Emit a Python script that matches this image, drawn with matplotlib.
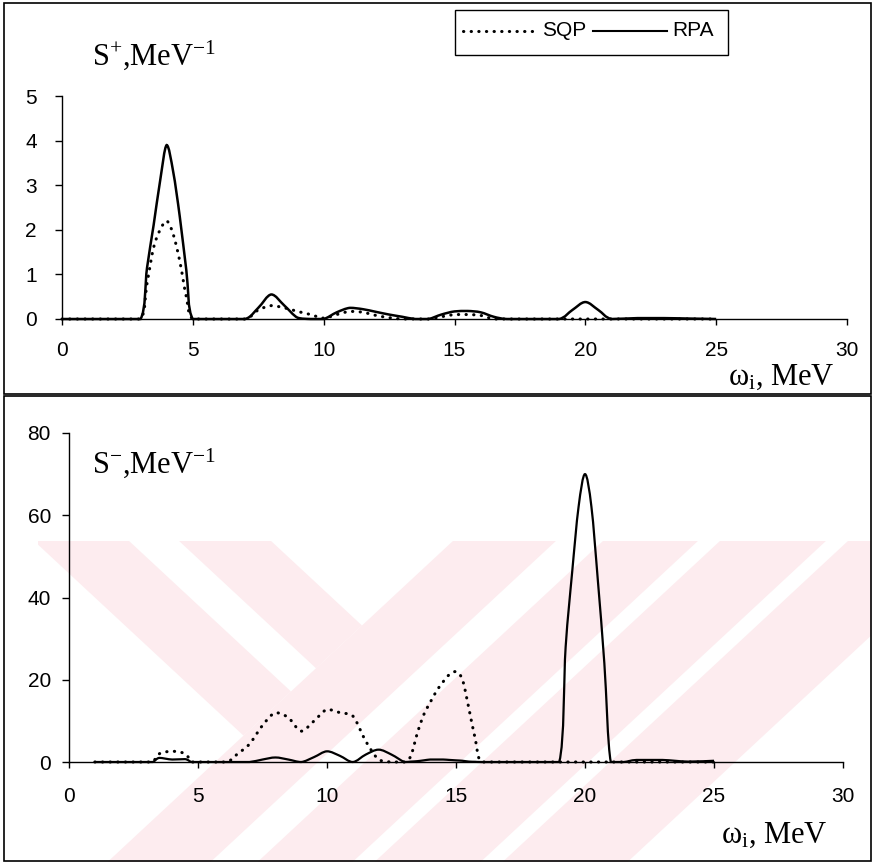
import matplotlib
matplotlib.use('Agg')
import matplotlib.pyplot as plt
from matplotlib.patches import Rectangle, Polygon, PathPatch
from matplotlib.lines import Line2D
from matplotlib.path import Path

W, H = 873, 864

# upper panel, S+ strength (MeV^-1) vs omega_i (MeV)
top_w = [0, 1, 2, 3, 3.25, 3.5, 3.75, 4, 4.25, 4.5, 4.75, 5,
         6, 7, 7.5, 8, 8.5, 9, 9.5, 10,
         10.5, 11, 11.5, 12, 12.5, 13, 13.5, 14,
         14.5, 15, 15.5, 16, 16.5, 17, 18, 19,
         19.5, 20, 20.5, 21, 22, 23, 24, 25]
top_sqp = [0, 0, 0, 0, 0.8, 1.6, 2.0, 2.2, 1.9, 1.3, 0.5, 0,
           0, 0, 0.2, 0.3, 0.25, 0.17, 0.1, 0.02,
           0.1, 0.17, 0.15, 0.08, 0.03, 0, 0, 0,
           0.05, 0.1, 0.1, 0.08, 0, 0, 0, 0,
           0, 0, 0, 0, 0, 0, 0, 0]
top_rpa = [0, 0, 0, 0, 1.15, 2.1, 3.1, 3.9, 3.3, 2.3, 1.1, 0,
           0, 0, 0.25, 0.55, 0.3, 0.03, 0, 0,
           0.15, 0.25, 0.22, 0.16, 0.1, 0.05, 0, 0,
           0.1, 0.17, 0.18, 0.15, 0.05, 0, 0, 0,
           0.2, 0.38, 0.2, 0, 0.02, 0.02, 0.01, 0]

# lower panel, S- strength
bot_w = [1, 2, 3, 3.25, 3.5, 4, 4.5, 4.75,
         5, 6, 6.25, 6.5, 7, 7.5, 8, 8.5,
         9, 9.5, 10, 10.5, 11, 11.5, 12, 12.5,
         13, 13.25, 13.5, 13.75, 14, 14.25, 14.5, 14.75,
         15, 15.25, 15.5, 15.75, 16, 17, 18, 19,
         19.25, 19.5, 19.75, 20, 20.25, 20.5, 20.75, 21,
         21.5, 22, 23, 24, 25]
bot_sqp = [0, 0, 0, 0, 2.0, 2.6, 2.0, 0,
           0, 0, 0.4, 1.8, 4.4, 8.9, 12.0, 10.8,
           7.5, 10.0, 12.8, 12.0, 11.2, 5.1, 0.6, 0,
           0, 1.5, 7.0, 11.5, 14.5, 17.3, 19.5, 21.3,
           22.0, 20.0, 13.0, 5.5, 0, 0, 0, 0,
           0, 0, 0, 0, 0, 0, 0, 0,
           0, 0, 0, 0, 0]
bot_rpa = [0, 0, 0, 0, 1.0, 0.6, 0.7, 0,
           0, 0, 0, 0, 0, 0.6, 1.1, 0.6,
           0, 1.2, 2.6, 1.5, 0, 1.8, 3.0, 1.8,
           0, 0.1, 0.2, 0.4, 0.6, 0.6, 0.6, 0.5,
           0.4, 0.3, 0.1, 0.05, 0, 0, 0, 0,
           28, 46, 62, 70, 62, 44, 24, 0,
           0, 0.5, 0.5, 0.1, 0.3]

x_ticks = [0, 5, 10, 15, 20, 25, 30]
top_y_ticks = [0, 1, 2, 3, 4, 5]
bot_y_ticks = [0, 20, 40, 60, 80]

plt.rcParams['font.family'] = ['Liberation Sans', 'DejaVu Sans']
plt.rcParams['mathtext.fontset'] = 'custom'
plt.rcParams['mathtext.rm'] = 'Liberation Serif'
plt.rcParams['mathtext.it'] = 'Liberation Serif:italic'


def fx(px):
    return px / W


def fy(py):
    return 1 - py / H


def pts(seq):
    return [(fx(a), fy(b)) for a, b in seq]


def smooth_path(xs, ys):
    # smoothed line like excel's, bezier segments through the points,
    # handles kept between neighbouring values so nothing dips below zero
    n = len(xs)
    verts = [(xs[0], ys[0])]
    codes = [Path.MOVETO]
    for i in range(n - 1):
        a = max(i - 1, 0)
        b = min(i + 2, n - 1)
        lo, hi = min(ys[i], ys[i + 1]), max(ys[i], ys[i + 1])
        c1y = min(max(ys[i] + (ys[i + 1] - ys[a]) / 6, lo), hi)
        c2y = min(max(ys[i + 1] - (ys[b] - ys[i]) / 6, lo), hi)
        c1 = (xs[i] + (xs[i + 1] - xs[a]) / 6, c1y)
        c2 = (xs[i + 1] - (xs[b] - xs[i]) / 6, c2y)
        verts += [c1, c2, (xs[i + 1], ys[i + 1])]
        codes += [Path.CURVE4] * 3
    return Path(verts, codes)


def draw(ax, xs, ys, **kw):
    patch = PathPatch(smooth_path(xs, ys), fill=False, edgecolor='black',
                      clip_on=False, **kw)
    ax.add_patch(patch)
    return patch


fig = plt.figure(figsize=(W / 100, H / 100), dpi=100)
fig.patch.set_facecolor('white')

# faint watermark stripes behind the lower panel
pink = '#fdecef'
k = 1.076
y0, ytop, ybot = 553, 541, 862


def slash(xa, xb):
    return [(xa - k * (ytop - y0), ytop), (xb - k * (ytop - y0), ytop),
            (xb - k * (ybot - y0), ybot), (xa - k * (ybot - y0), ybot)]


def back(xa, xb, xc):
    ta = (xc - xa) / (2 * k)
    tb = (xc - xb) / (2 * k)
    return [(xa - k * (y0 - ytop), ytop), (xb - k * (y0 - ytop), ytop),
            (xb + k * tb, y0 + tb), (xa + k * ta, y0 + ta)]


clip = Rectangle((fx(38), fy(ybot)), fx(871) - fx(38), fy(ytop) - fy(ybot),
                 transform=fig.transFigure, facecolor='none', edgecolor='none')
fig.add_artist(clip)
stripes = [back(47, 142, 440), back(192, 284, 440),
           slash(440, 543), slash(590, 685), slash(707, 813), slash(835, 960)]
for s in stripes:
    p = Polygon(pts(s), closed=True, transform=fig.transFigure,
                facecolor=pink, edgecolor='none', zorder=0)
    fig.add_artist(p)
    p.set_clip_path(clip)
ax_apex, ay_apex, th = 786, 730, 36
span = ybot - ay_apex
lam = [(ax_apex, ay_apex), (ax_apex + k * span, ybot), (ax_apex + k * span - th, ybot),
       (ax_apex, ay_apex + th / (2 * k)), (ax_apex - k * span + th, ybot),
       (ax_apex - k * span, ybot)]
p = Polygon(pts(lam), closed=True, transform=fig.transFigure,
            facecolor='white', edgecolor='none', zorder=0)
fig.add_artist(p)
p.set_clip_path(clip)

# panel frames
for (x0, yy0, x1, yy1) in [(4, 3, 871, 394), (4, 396, 871, 861)]:
    fig.add_artist(Rectangle((fx(x0), fy(yy1)), fx(x1) - fx(x0), fy(yy0) - fy(yy1),
                             transform=fig.transFigure, fill=False,
                             edgecolor='black', linewidth=1.2))

ax1 = fig.add_axes([fx(62), fy(319), (847 - 62) / W, (319 - 96) / H])
ax2 = fig.add_axes([fx(69), fy(762), (843 - 69) / W, (762 - 433) / H])

dot = (0, (0.1, 2.4))
draw(ax1, top_w, top_sqp, lw=2.2, linestyle=dot, capstyle='round')
draw(ax1, top_w, top_rpa, lw=1.8)
draw(ax2, bot_w, bot_sqp, lw=2.2, linestyle=dot, capstyle='round')
draw(ax2, bot_w, bot_rpa, lw=1.6)

for ax, yt, xpad, ypad in [(ax1, top_y_ticks, 12, 13), (ax2, bot_y_ticks, 14, 8)]:
    ax.set_facecolor('none')
    ax.set_xlim(0, 30)
    ax.set_ylim(yt[0], yt[-1])
    ax.set_xticks(x_ticks)
    ax.set_yticks(yt)
    for side in ['top', 'right']:
        ax.spines[side].set_visible(False)
    for side in ['left', 'bottom']:
        ax.spines[side].set_linewidth(1)
    ax.tick_params(axis='x', direction='out', length=4, width=1, labelsize=15, pad=xpad)
    ax.tick_params(axis='y', direction='out', length=5, width=1, labelsize=15, pad=ypad)

# axis captions
serif = 'Liberation Serif'
fig.text(fx(92), fy(65), r'S$^{+}$,MeV$^{-1}$', family=serif, fontsize=22, va='baseline')
fig.text(fx(92), fy(473), r'S$^{-}$,MeV$^{-1}$', family=serif, fontsize=22, va='baseline')
fig.text(fx(728), fy(385), r'ω$_{\rm i}$, MeV', family=serif, fontsize=22, va='baseline')
fig.text(fx(721), fy(843), r'ω$_{\rm i}$, MeV', family=serif, fontsize=22, va='baseline')

# legend box
fig.add_artist(Rectangle((fx(455), fy(55)), fx(728) - fx(455), fy(10) - fy(55),
                         transform=fig.transFigure, fill=False,
                         edgecolor='black', linewidth=1))
fig.add_artist(Line2D([fx(463), fx(539)], [fy(31), fy(31)], color='black', lw=2.2,
                      linestyle=dot, dash_capstyle='round', transform=fig.transFigure))
fig.text(fx(542), fy(31), 'SQP', fontsize=15, va='center')
fig.add_artist(Line2D([fx(593), fx(667)], [fy(31), fy(31)], color='black', lw=1.5,
                      transform=fig.transFigure))
fig.text(fx(672), fy(31), 'RPA', fontsize=15, va='center')

fig.savefig('out.png', dpi=100)
